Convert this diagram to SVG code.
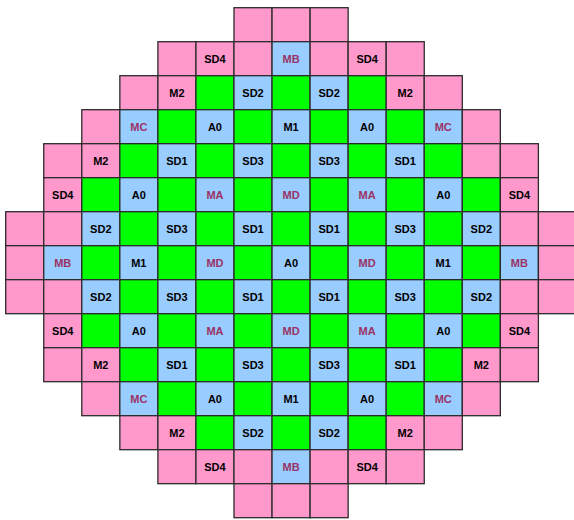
<svg xmlns="http://www.w3.org/2000/svg" width="574" height="520" viewBox="0 0 574 520">
<style>
.p,.b,.g{stroke:#2b2b2b;stroke-width:1.3}
.p{fill:#FF99CC}.b{fill:#99CCFF}.g{fill:#00FF00}
text{font-family:"Liberation Sans",Arial,sans-serif;font-weight:bold;font-size:11px;text-anchor:middle}
.k{fill:#000}.u{fill:#993366}
</style>
<g id="r0">
<g id="r0c6" transform="translate(234,7.7)"><rect class="p" width="38.05" height="34"/></g>
<g id="r0c7" transform="translate(272.05,7.7)"><rect class="p" width="38.05" height="34"/></g>
<g id="r0c8" transform="translate(310.1,7.7)"><rect class="p" width="38.05" height="34"/></g>
</g>
<g id="r1">
<g id="r1c4" transform="translate(157.9,41.7)"><rect class="p" width="38.05" height="34"/></g>
<g id="r1c5" transform="translate(195.95,41.7)"><rect class="p" width="38.05" height="34"/><text class="k" x="19" y="21">SD4</text></g>
<g id="r1c6" transform="translate(234,41.7)"><rect class="p" width="38.05" height="34"/></g>
<g id="r1c7" transform="translate(272.05,41.7)"><rect class="b" width="38.05" height="34"/><text class="u" x="19" y="21">MB</text></g>
<g id="r1c8" transform="translate(310.1,41.7)"><rect class="p" width="38.05" height="34"/></g>
<g id="r1c9" transform="translate(348.15,41.7)"><rect class="p" width="38.05" height="34"/><text class="k" x="19" y="21">SD4</text></g>
<g id="r1c10" transform="translate(386.2,41.7)"><rect class="p" width="38.05" height="34"/></g>
</g>
<g id="r2">
<g id="r2c3" transform="translate(119.85,75.7)"><rect class="p" width="38.05" height="34"/></g>
<g id="r2c4" transform="translate(157.9,75.7)"><rect class="p" width="38.05" height="34"/><text class="k" x="19" y="21">M2</text></g>
<g id="r2c5" transform="translate(195.95,75.7)"><rect class="g" width="38.05" height="34"/></g>
<g id="r2c6" transform="translate(234,75.7)"><rect class="b" width="38.05" height="34"/><text class="k" x="19" y="21">SD2</text></g>
<g id="r2c7" transform="translate(272.05,75.7)"><rect class="g" width="38.05" height="34"/></g>
<g id="r2c8" transform="translate(310.1,75.7)"><rect class="b" width="38.05" height="34"/><text class="k" x="19" y="21">SD2</text></g>
<g id="r2c9" transform="translate(348.15,75.7)"><rect class="g" width="38.05" height="34"/></g>
<g id="r2c10" transform="translate(386.2,75.7)"><rect class="p" width="38.05" height="34"/><text class="k" x="19" y="21">M2</text></g>
<g id="r2c11" transform="translate(424.25,75.7)"><rect class="p" width="38.05" height="34"/></g>
</g>
<g id="r3">
<g id="r3c2" transform="translate(81.8,109.7)"><rect class="p" width="38.05" height="34"/></g>
<g id="r3c3" transform="translate(119.85,109.7)"><rect class="b" width="38.05" height="34"/><text class="u" x="19" y="21">MC</text></g>
<g id="r3c4" transform="translate(157.9,109.7)"><rect class="g" width="38.05" height="34"/></g>
<g id="r3c5" transform="translate(195.95,109.7)"><rect class="b" width="38.05" height="34"/><text class="k" x="19" y="21">A0</text></g>
<g id="r3c6" transform="translate(234,109.7)"><rect class="g" width="38.05" height="34"/></g>
<g id="r3c7" transform="translate(272.05,109.7)"><rect class="b" width="38.05" height="34"/><text class="k" x="19" y="21">M1</text></g>
<g id="r3c8" transform="translate(310.1,109.7)"><rect class="g" width="38.05" height="34"/></g>
<g id="r3c9" transform="translate(348.15,109.7)"><rect class="b" width="38.05" height="34"/><text class="k" x="19" y="21">A0</text></g>
<g id="r3c10" transform="translate(386.2,109.7)"><rect class="g" width="38.05" height="34"/></g>
<g id="r3c11" transform="translate(424.25,109.7)"><rect class="b" width="38.05" height="34"/><text class="u" x="19" y="21">MC</text></g>
<g id="r3c12" transform="translate(462.3,109.7)"><rect class="p" width="38.05" height="34"/></g>
</g>
<g id="r4">
<g id="r4c1" transform="translate(43.75,143.7)"><rect class="p" width="38.05" height="34"/></g>
<g id="r4c2" transform="translate(81.8,143.7)"><rect class="p" width="38.05" height="34"/><text class="k" x="19" y="21">M2</text></g>
<g id="r4c3" transform="translate(119.85,143.7)"><rect class="g" width="38.05" height="34"/></g>
<g id="r4c4" transform="translate(157.9,143.7)"><rect class="b" width="38.05" height="34"/><text class="k" x="19" y="21">SD1</text></g>
<g id="r4c5" transform="translate(195.95,143.7)"><rect class="g" width="38.05" height="34"/></g>
<g id="r4c6" transform="translate(234,143.7)"><rect class="b" width="38.05" height="34"/><text class="k" x="19" y="21">SD3</text></g>
<g id="r4c7" transform="translate(272.05,143.7)"><rect class="g" width="38.05" height="34"/></g>
<g id="r4c8" transform="translate(310.1,143.7)"><rect class="b" width="38.05" height="34"/><text class="k" x="19" y="21">SD3</text></g>
<g id="r4c9" transform="translate(348.15,143.7)"><rect class="g" width="38.05" height="34"/></g>
<g id="r4c10" transform="translate(386.2,143.7)"><rect class="b" width="38.05" height="34"/><text class="k" x="19" y="21">SD1</text></g>
<g id="r4c11" transform="translate(424.25,143.7)"><rect class="g" width="38.05" height="34"/></g>
<g id="r4c12" transform="translate(462.3,143.7)"><rect class="p" width="38.05" height="34"/></g>
<g id="r4c13" transform="translate(500.35,143.7)"><rect class="p" width="38.05" height="34"/></g>
</g>
<g id="r5">
<g id="r5c1" transform="translate(43.75,177.7)"><rect class="p" width="38.05" height="34"/><text class="k" x="19" y="21">SD4</text></g>
<g id="r5c2" transform="translate(81.8,177.7)"><rect class="g" width="38.05" height="34"/></g>
<g id="r5c3" transform="translate(119.85,177.7)"><rect class="b" width="38.05" height="34"/><text class="k" x="19" y="21">A0</text></g>
<g id="r5c4" transform="translate(157.9,177.7)"><rect class="g" width="38.05" height="34"/></g>
<g id="r5c5" transform="translate(195.95,177.7)"><rect class="b" width="38.05" height="34"/><text class="u" x="19" y="21">MA</text></g>
<g id="r5c6" transform="translate(234,177.7)"><rect class="g" width="38.05" height="34"/></g>
<g id="r5c7" transform="translate(272.05,177.7)"><rect class="b" width="38.05" height="34"/><text class="u" x="19" y="21">MD</text></g>
<g id="r5c8" transform="translate(310.1,177.7)"><rect class="g" width="38.05" height="34"/></g>
<g id="r5c9" transform="translate(348.15,177.7)"><rect class="b" width="38.05" height="34"/><text class="u" x="19" y="21">MA</text></g>
<g id="r5c10" transform="translate(386.2,177.7)"><rect class="g" width="38.05" height="34"/></g>
<g id="r5c11" transform="translate(424.25,177.7)"><rect class="b" width="38.05" height="34"/><text class="k" x="19" y="21">A0</text></g>
<g id="r5c12" transform="translate(462.3,177.7)"><rect class="g" width="38.05" height="34"/></g>
<g id="r5c13" transform="translate(500.35,177.7)"><rect class="p" width="38.05" height="34"/><text class="k" x="19" y="21">SD4</text></g>
</g>
<g id="r6">
<g id="r6c0" transform="translate(5.7,211.7)"><rect class="p" width="38.05" height="34"/></g>
<g id="r6c1" transform="translate(43.75,211.7)"><rect class="p" width="38.05" height="34"/></g>
<g id="r6c2" transform="translate(81.8,211.7)"><rect class="b" width="38.05" height="34"/><text class="k" x="19" y="21">SD2</text></g>
<g id="r6c3" transform="translate(119.85,211.7)"><rect class="g" width="38.05" height="34"/></g>
<g id="r6c4" transform="translate(157.9,211.7)"><rect class="b" width="38.05" height="34"/><text class="k" x="19" y="21">SD3</text></g>
<g id="r6c5" transform="translate(195.95,211.7)"><rect class="g" width="38.05" height="34"/></g>
<g id="r6c6" transform="translate(234,211.7)"><rect class="b" width="38.05" height="34"/><text class="k" x="19" y="21">SD1</text></g>
<g id="r6c7" transform="translate(272.05,211.7)"><rect class="g" width="38.05" height="34"/></g>
<g id="r6c8" transform="translate(310.1,211.7)"><rect class="b" width="38.05" height="34"/><text class="k" x="19" y="21">SD1</text></g>
<g id="r6c9" transform="translate(348.15,211.7)"><rect class="g" width="38.05" height="34"/></g>
<g id="r6c10" transform="translate(386.2,211.7)"><rect class="b" width="38.05" height="34"/><text class="k" x="19" y="21">SD3</text></g>
<g id="r6c11" transform="translate(424.25,211.7)"><rect class="g" width="38.05" height="34"/></g>
<g id="r6c12" transform="translate(462.3,211.7)"><rect class="b" width="38.05" height="34"/><text class="k" x="19" y="21">SD2</text></g>
<g id="r6c13" transform="translate(500.35,211.7)"><rect class="p" width="38.05" height="34"/></g>
<g id="r6c14" transform="translate(538.4,211.7)"><rect class="p" width="38.05" height="34"/></g>
</g>
<g id="r7">
<g id="r7c0" transform="translate(5.7,245.7)"><rect class="p" width="38.05" height="34"/></g>
<g id="r7c1" transform="translate(43.75,245.7)"><rect class="b" width="38.05" height="34"/><text class="u" x="19" y="21">MB</text></g>
<g id="r7c2" transform="translate(81.8,245.7)"><rect class="g" width="38.05" height="34"/></g>
<g id="r7c3" transform="translate(119.85,245.7)"><rect class="b" width="38.05" height="34"/><text class="k" x="19" y="21">M1</text></g>
<g id="r7c4" transform="translate(157.9,245.7)"><rect class="g" width="38.05" height="34"/></g>
<g id="r7c5" transform="translate(195.95,245.7)"><rect class="b" width="38.05" height="34"/><text class="u" x="19" y="21">MD</text></g>
<g id="r7c6" transform="translate(234,245.7)"><rect class="g" width="38.05" height="34"/></g>
<g id="r7c7" transform="translate(272.05,245.7)"><rect class="b" width="38.05" height="34"/><text class="k" x="19" y="21">A0</text></g>
<g id="r7c8" transform="translate(310.1,245.7)"><rect class="g" width="38.05" height="34"/></g>
<g id="r7c9" transform="translate(348.15,245.7)"><rect class="b" width="38.05" height="34"/><text class="u" x="19" y="21">MD</text></g>
<g id="r7c10" transform="translate(386.2,245.7)"><rect class="g" width="38.05" height="34"/></g>
<g id="r7c11" transform="translate(424.25,245.7)"><rect class="b" width="38.05" height="34"/><text class="k" x="19" y="21">M1</text></g>
<g id="r7c12" transform="translate(462.3,245.7)"><rect class="g" width="38.05" height="34"/></g>
<g id="r7c13" transform="translate(500.35,245.7)"><rect class="b" width="38.05" height="34"/><text class="u" x="19" y="21">MB</text></g>
<g id="r7c14" transform="translate(538.4,245.7)"><rect class="p" width="38.05" height="34"/></g>
</g>
<g id="r8">
<g id="r8c0" transform="translate(5.7,279.7)"><rect class="p" width="38.05" height="34"/></g>
<g id="r8c1" transform="translate(43.75,279.7)"><rect class="p" width="38.05" height="34"/></g>
<g id="r8c2" transform="translate(81.8,279.7)"><rect class="b" width="38.05" height="34"/><text class="k" x="19" y="21">SD2</text></g>
<g id="r8c3" transform="translate(119.85,279.7)"><rect class="g" width="38.05" height="34"/></g>
<g id="r8c4" transform="translate(157.9,279.7)"><rect class="b" width="38.05" height="34"/><text class="k" x="19" y="21">SD3</text></g>
<g id="r8c5" transform="translate(195.95,279.7)"><rect class="g" width="38.05" height="34"/></g>
<g id="r8c6" transform="translate(234,279.7)"><rect class="b" width="38.05" height="34"/><text class="k" x="19" y="21">SD1</text></g>
<g id="r8c7" transform="translate(272.05,279.7)"><rect class="g" width="38.05" height="34"/></g>
<g id="r8c8" transform="translate(310.1,279.7)"><rect class="b" width="38.05" height="34"/><text class="k" x="19" y="21">SD1</text></g>
<g id="r8c9" transform="translate(348.15,279.7)"><rect class="g" width="38.05" height="34"/></g>
<g id="r8c10" transform="translate(386.2,279.7)"><rect class="b" width="38.05" height="34"/><text class="k" x="19" y="21">SD3</text></g>
<g id="r8c11" transform="translate(424.25,279.7)"><rect class="g" width="38.05" height="34"/></g>
<g id="r8c12" transform="translate(462.3,279.7)"><rect class="b" width="38.05" height="34"/><text class="k" x="19" y="21">SD2</text></g>
<g id="r8c13" transform="translate(500.35,279.7)"><rect class="p" width="38.05" height="34"/></g>
<g id="r8c14" transform="translate(538.4,279.7)"><rect class="p" width="38.05" height="34"/></g>
</g>
<g id="r9">
<g id="r9c1" transform="translate(43.75,313.7)"><rect class="p" width="38.05" height="34"/><text class="k" x="19" y="21">SD4</text></g>
<g id="r9c2" transform="translate(81.8,313.7)"><rect class="g" width="38.05" height="34"/></g>
<g id="r9c3" transform="translate(119.85,313.7)"><rect class="b" width="38.05" height="34"/><text class="k" x="19" y="21">A0</text></g>
<g id="r9c4" transform="translate(157.9,313.7)"><rect class="g" width="38.05" height="34"/></g>
<g id="r9c5" transform="translate(195.95,313.7)"><rect class="b" width="38.05" height="34"/><text class="u" x="19" y="21">MA</text></g>
<g id="r9c6" transform="translate(234,313.7)"><rect class="g" width="38.05" height="34"/></g>
<g id="r9c7" transform="translate(272.05,313.7)"><rect class="b" width="38.05" height="34"/><text class="u" x="19" y="21">MD</text></g>
<g id="r9c8" transform="translate(310.1,313.7)"><rect class="g" width="38.05" height="34"/></g>
<g id="r9c9" transform="translate(348.15,313.7)"><rect class="b" width="38.05" height="34"/><text class="u" x="19" y="21">MA</text></g>
<g id="r9c10" transform="translate(386.2,313.7)"><rect class="g" width="38.05" height="34"/></g>
<g id="r9c11" transform="translate(424.25,313.7)"><rect class="b" width="38.05" height="34"/><text class="k" x="19" y="21">A0</text></g>
<g id="r9c12" transform="translate(462.3,313.7)"><rect class="g" width="38.05" height="34"/></g>
<g id="r9c13" transform="translate(500.35,313.7)"><rect class="p" width="38.05" height="34"/><text class="k" x="19" y="21">SD4</text></g>
</g>
<g id="r10">
<g id="r10c1" transform="translate(43.75,347.7)"><rect class="p" width="38.05" height="34"/></g>
<g id="r10c2" transform="translate(81.8,347.7)"><rect class="p" width="38.05" height="34"/><text class="k" x="19" y="21">M2</text></g>
<g id="r10c3" transform="translate(119.85,347.7)"><rect class="g" width="38.05" height="34"/></g>
<g id="r10c4" transform="translate(157.9,347.7)"><rect class="b" width="38.05" height="34"/><text class="k" x="19" y="21">SD1</text></g>
<g id="r10c5" transform="translate(195.95,347.7)"><rect class="g" width="38.05" height="34"/></g>
<g id="r10c6" transform="translate(234,347.7)"><rect class="b" width="38.05" height="34"/><text class="k" x="19" y="21">SD3</text></g>
<g id="r10c7" transform="translate(272.05,347.7)"><rect class="g" width="38.05" height="34"/></g>
<g id="r10c8" transform="translate(310.1,347.7)"><rect class="b" width="38.05" height="34"/><text class="k" x="19" y="21">SD3</text></g>
<g id="r10c9" transform="translate(348.15,347.7)"><rect class="g" width="38.05" height="34"/></g>
<g id="r10c10" transform="translate(386.2,347.7)"><rect class="b" width="38.05" height="34"/><text class="k" x="19" y="21">SD1</text></g>
<g id="r10c11" transform="translate(424.25,347.7)"><rect class="g" width="38.05" height="34"/></g>
<g id="r10c12" transform="translate(462.3,347.7)"><rect class="p" width="38.05" height="34"/><text class="k" x="19" y="21">M2</text></g>
<g id="r10c13" transform="translate(500.35,347.7)"><rect class="p" width="38.05" height="34"/></g>
</g>
<g id="r11">
<g id="r11c2" transform="translate(81.8,381.7)"><rect class="p" width="38.05" height="34"/></g>
<g id="r11c3" transform="translate(119.85,381.7)"><rect class="b" width="38.05" height="34"/><text class="u" x="19" y="21">MC</text></g>
<g id="r11c4" transform="translate(157.9,381.7)"><rect class="g" width="38.05" height="34"/></g>
<g id="r11c5" transform="translate(195.95,381.7)"><rect class="b" width="38.05" height="34"/><text class="k" x="19" y="21">A0</text></g>
<g id="r11c6" transform="translate(234,381.7)"><rect class="g" width="38.05" height="34"/></g>
<g id="r11c7" transform="translate(272.05,381.7)"><rect class="b" width="38.05" height="34"/><text class="k" x="19" y="21">M1</text></g>
<g id="r11c8" transform="translate(310.1,381.7)"><rect class="g" width="38.05" height="34"/></g>
<g id="r11c9" transform="translate(348.15,381.7)"><rect class="b" width="38.05" height="34"/><text class="k" x="19" y="21">A0</text></g>
<g id="r11c10" transform="translate(386.2,381.7)"><rect class="g" width="38.05" height="34"/></g>
<g id="r11c11" transform="translate(424.25,381.7)"><rect class="b" width="38.05" height="34"/><text class="u" x="19" y="21">MC</text></g>
<g id="r11c12" transform="translate(462.3,381.7)"><rect class="p" width="38.05" height="34"/></g>
</g>
<g id="r12">
<g id="r12c3" transform="translate(119.85,415.7)"><rect class="p" width="38.05" height="34"/></g>
<g id="r12c4" transform="translate(157.9,415.7)"><rect class="p" width="38.05" height="34"/><text class="k" x="19" y="21">M2</text></g>
<g id="r12c5" transform="translate(195.95,415.7)"><rect class="g" width="38.05" height="34"/></g>
<g id="r12c6" transform="translate(234,415.7)"><rect class="b" width="38.05" height="34"/><text class="k" x="19" y="21">SD2</text></g>
<g id="r12c7" transform="translate(272.05,415.7)"><rect class="g" width="38.05" height="34"/></g>
<g id="r12c8" transform="translate(310.1,415.7)"><rect class="b" width="38.05" height="34"/><text class="k" x="19" y="21">SD2</text></g>
<g id="r12c9" transform="translate(348.15,415.7)"><rect class="g" width="38.05" height="34"/></g>
<g id="r12c10" transform="translate(386.2,415.7)"><rect class="p" width="38.05" height="34"/><text class="k" x="19" y="21">M2</text></g>
<g id="r12c11" transform="translate(424.25,415.7)"><rect class="p" width="38.05" height="34"/></g>
</g>
<g id="r13">
<g id="r13c4" transform="translate(157.9,449.7)"><rect class="p" width="38.05" height="34"/></g>
<g id="r13c5" transform="translate(195.95,449.7)"><rect class="p" width="38.05" height="34"/><text class="k" x="19" y="21">SD4</text></g>
<g id="r13c6" transform="translate(234,449.7)"><rect class="p" width="38.05" height="34"/></g>
<g id="r13c7" transform="translate(272.05,449.7)"><rect class="b" width="38.05" height="34"/><text class="u" x="19" y="21">MB</text></g>
<g id="r13c8" transform="translate(310.1,449.7)"><rect class="p" width="38.05" height="34"/></g>
<g id="r13c9" transform="translate(348.15,449.7)"><rect class="p" width="38.05" height="34"/><text class="k" x="19" y="21">SD4</text></g>
<g id="r13c10" transform="translate(386.2,449.7)"><rect class="p" width="38.05" height="34"/></g>
</g>
<g id="r14">
<g id="r14c6" transform="translate(234,483.7)"><rect class="p" width="38.05" height="34"/></g>
<g id="r14c7" transform="translate(272.05,483.7)"><rect class="p" width="38.05" height="34"/></g>
<g id="r14c8" transform="translate(310.1,483.7)"><rect class="p" width="38.05" height="34"/></g>
</g>
</svg>
